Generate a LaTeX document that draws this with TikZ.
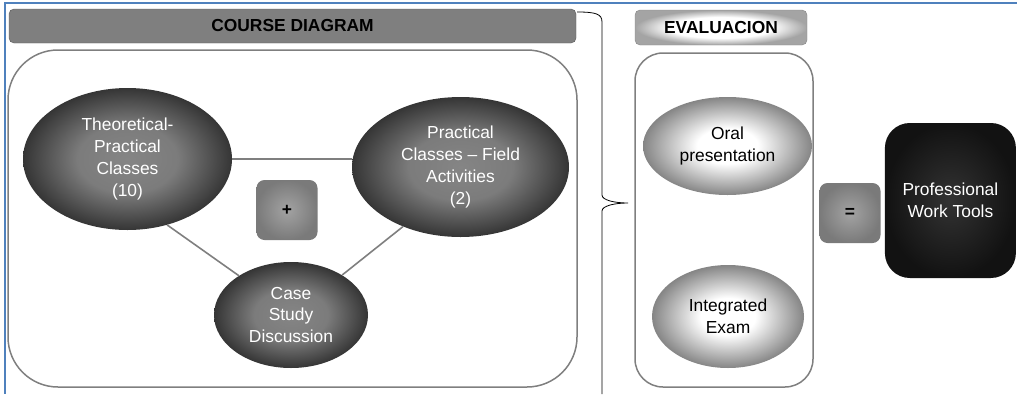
\documentclass[tikz,border=0pt]{standalone}
\usepackage{fontspec}
\setmainfont{Liberation Sans}
\usepackage{xcolor}
\usepackage{tikz}
\usetikzlibrary{positioning,shapes.geometric}

\definecolor{panelgray}{HTML}{7F7F7F}
\definecolor{darkin}{HTML}{858585}
\definecolor{darkout}{HTML}{353535}
\definecolor{lightout}{HTML}{858585}
\definecolor{opin}{HTML}{A3A3A3}
\definecolor{opout}{HTML}{7A7A7A}
\definecolor{pagerule}{HTML}{4F81BD}

\pgfdeclareradialshading{darkfill}{\pgfpoint{0bp}{0bp}}{color(0bp)=(darkin);
  color(12bp)=(darkin!88!darkout); color(25bp)=(darkout); color(50bp)=(darkout)}
\pgfdeclareradialshading{lightfill}{\pgfpoint{0bp}{0bp}}{color(0bp)=(white);
  color(9bp)=(white); color(25bp)=(lightout); color(50bp)=(lightout)}
\pgfdeclareradialshading{tabfill}{\pgfpoint{0bp}{0bp}}{color(0bp)=(white);
  color(15bp)=(white); color(25bp)=(lightout!75); color(50bp)=(lightout!75)}

\begin{document}
\begin{tikzpicture}[
    x=1pt, y=-1pt,
    font=\fontsize{17.4}{21.7}\selectfont,
    darkell/.style={ellipse, inner sep=0pt, align=center, text=white, shading=darkfill},
    lightell/.style={ellipse, inner sep=0pt, align=center, shading=lightfill},
    opbox/.style={rounded corners=8pt, minimum width=61pt, minimum height=60pt,
      inner color=opin, outer color=opout, font=\fontsize{17.4}{21.7}\selectfont\bfseries},
    panel/.style={draw=panelgray, line width=1.5pt, rounded corners=#1},
    link/.style={draw=panelgray, line width=1.6pt}
  ]
    \useasboundingbox (0,0) rectangle (1017,394);
    \draw[pagerule, line width=1.5pt] (1017,3) -- (5,3) -- (5,394);

    \node[draw=panelgray!70!black, fill=panelgray, rounded corners=5pt,
      minimum width=567pt, minimum height=34pt, font=\fontsize{17.4}{21.7}\selectfont\bfseries]
      (title) at (292.5,26) {COURSE DIAGRAM};
    \node[panel=50pt, minimum width=569pt, minimum height=337pt] (course) at (292.5,218.5) {};
    \node[darkell, minimum width=209pt, minimum height=142pt] (theo) at (127.5,159)
      {Theoretical-\\Practical\\Classes\\(10)};
    \node[darkell, minimum width=217pt, minimum height=140pt] (prac) at (460.5,167)
      {Practical\\Classes -- Field\\Activities\\(2)};
    \node[darkell, minimum width=154pt, minimum height=106pt] (case) at (291,315)
      {Case\\Study\\Discussion};
    \node[opbox] (plus) at (287,210) {+};
    \draw[link] (theo.east) -- (theo.east -| prac.west);
    \draw[link] (theo.-59) -- (case.143);
    \draw[link] (prac.-134) -- (case.38);

    \draw[line width=0.8pt] (577,12) .. controls (596,12) and (602,14) .. (602,22)
      -- (602,195) .. controls (602,200) and (614,203) .. (628,203)
      .. controls (614,203) and (602,206) .. (602,211) -- (602,394);

    \node[draw=lightout, rounded corners=5pt, shading=tabfill,
      minimum width=172pt, minimum height=35pt, font=\fontsize{17.4}{21.7}\selectfont\bfseries]
      (evaltitle) at (721,27.5) {EVALUACION};
    \node[panel=28pt, minimum width=178pt, minimum height=334pt] (evalbox) at (724,220) {};
    \node[lightell, minimum width=169pt, minimum height=98pt] (oral) at (727.5,146)
      {Oral\\presentation};
    \node[lightell, minimum width=152pt, minimum height=103pt] (exam) at (728,316.5)
      {Integrated\\Exam};

    \node[opbox] (eq) at (850,213) {=};
    \node[right=4pt of eq, yshift=12.5pt, rounded corners=25pt, inner color=black!80,
      outer color=black!93, text=white, align=center, minimum width=131pt,
      minimum height=155pt] (tools) {Professional\\Work Tools};
  \end{tikzpicture}
\end{document}
